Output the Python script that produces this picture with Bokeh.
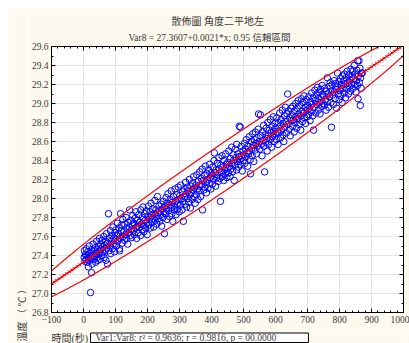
import numpy as np
from bokeh.plotting import figure
from bokeh.layouts import column, row
from bokeh.models import (Range1d, LinearAxis, SingleIntervalTicker,
                          PrintfTickFormatter, Title, Spacer,
                          CustomJSTickFormatter)
from bokeh.core.properties import value
from bokeh.embed import file_html
from bokeh.resources import INLINE

title_text = "散佈圖 角度二平地左"
subtitle_text = "Var8 = 27.3607+0.0021*x; 0.95 信賴區間"
x_label = "時間(秒)"
y_label = "溫度  （ ℃ ）"
stats_text = "Var1:Var8:   r² = 0.9636;   r = 0.9816, p = 00.0000"

# time (s)
time_s = [
    2, 3, 5, 6, 8, 9, 11, 12, 14, 15, 16, 18, 19, 21, 22, 23, 25, 26, 27, 29, 30, 32, 33, 35, 36, 38, 39, 41, 42, 44, 45, 47, 48, 50,
    51, 52, 54, 55, 57, 58, 60, 61, 63, 64, 66, 67, 69, 70, 72, 73, 75, 76, 78, 79, 81, 82, 84, 85, 87, 88, 90, 92, 93, 95, 97, 98, 100,
    101, 103, 104, 106, 107, 109, 111, 112, 113, 115, 116, 118, 119, 121, 123, 124, 126, 128, 129, 131, 133, 134, 136, 138, 139, 141, 143, 144, 146, 148, 149,
    151, 153, 154, 156, 158, 159, 161, 163, 164, 166, 168, 169, 171, 173, 174, 176, 178, 179, 181, 183, 184, 186, 188, 189, 191, 193, 194, 196, 198, 199,
    201, 203, 204, 206, 208, 209, 211, 213, 214, 216, 218, 219, 221, 223, 224, 226, 228, 229, 231, 233, 234, 236, 238, 239, 241, 243, 244, 246, 248, 249,
    251, 253, 254, 256, 258, 259, 261, 263, 264, 266, 268, 269, 271, 273, 274, 276, 278, 279, 281, 283, 284, 286, 288, 289, 291, 293, 294, 296, 298, 299,
    301, 303, 304, 306, 308, 309, 311, 312, 314, 316, 317, 319, 321, 322, 324, 326, 327, 329, 331, 332, 334, 336, 337, 339, 341, 342, 344, 346, 347, 349,
    351, 353, 354, 356, 358, 359, 361, 363, 364, 366, 368, 369, 371, 372, 374, 376, 377, 379, 381, 382, 384, 386, 387, 389, 391, 393, 394, 396, 398, 399,
    401, 403, 404, 406, 408, 409, 411, 413, 414, 416, 418, 419, 421, 423, 424, 426, 428, 429, 431, 433, 434, 436, 438, 439, 441, 443, 444, 446, 448, 449,
    451, 453, 454, 456, 458, 459, 461, 463, 464, 466, 468, 469, 471, 473, 474, 476, 478, 479, 481, 483, 484, 486, 487, 489, 490, 491, 493, 494, 496, 498, 499,
    501, 503, 504, 506, 508, 509, 511, 513, 514, 516, 518, 519, 521, 522, 524, 526, 527, 529, 531, 532, 534, 536, 537, 539, 541, 542, 544, 546, 547, 549,
    551, 553, 554, 556, 558, 559, 561, 563, 564, 566, 568, 569, 571, 573, 574, 576, 578, 579, 581, 583, 584, 586, 588, 589, 591, 593, 594, 596, 598, 599,
    601, 603, 604, 606, 608, 609, 611, 613, 614, 616, 618, 619, 621, 623, 624, 626, 628, 629, 631, 633, 634, 636, 638, 639, 641, 643, 644, 646, 648, 649,
    651, 653, 654, 656, 658, 659, 661, 663, 664, 666, 668, 669, 671, 673, 674, 676, 678, 679, 681, 683, 684, 686, 688, 689, 691, 693, 694, 696, 698, 699,
    701, 703, 704, 706, 708, 709, 711, 713, 714, 716, 718, 719, 721, 723, 724, 726, 728, 729, 731, 733, 734, 736, 738, 739, 741, 743, 744, 746, 748, 749,
    751, 753, 754, 756, 758, 759, 761, 762, 764, 766, 768, 769, 771, 773, 774, 775, 777, 779, 781, 783, 784, 786, 788, 789, 791, 793, 794, 796, 798, 799,
    801, 803, 804, 806, 808, 809, 811, 813, 814, 816, 818, 819, 821, 823, 824, 826, 828, 829, 831, 833, 834, 836, 838, 839, 841, 843, 844, 846, 848, 849,
    851, 853, 854, 856, 857, 859, 861, 862, 864, 866, 868, 869, 871, 865, 858,
]

# temperature (deg C)
temp_c = [
    27.38, 27.45, 27.34, 27.41, 27.36, 27.47, 27.40, 27.33, 27.44, 27.28, 27.38, 27.50, 27.35, 27.42, 27.01, 27.37, 27.22, 27.46, 27.31, 27.40, 27.52, 27.36, 27.44, 27.39, 27.48, 27.33, 27.42, 27.55, 27.38, 27.46, 27.35, 27.50, 27.42, 27.58,
    27.44, 27.36, 27.52, 27.47, 27.40, 27.56, 27.49, 27.43, 27.60, 27.38, 27.51, 27.46, 27.55, 27.35, 27.63, 27.48, 27.31, 27.53, 27.84, 27.45, 27.58, 27.50, 27.66, 27.42, 27.55, 27.61, 27.47, 27.70, 27.52, 27.58, 27.44, 27.64, 27.56,
    27.67, 27.50, 27.61, 27.74, 27.55, 27.63, 27.69, 27.47, 27.45, 27.58, 27.84, 27.66, 27.72, 27.53, 27.78, 27.60, 27.65, 27.56, 27.73, 27.62, 27.80, 27.58, 27.68, 27.52, 27.75, 27.64, 27.70, 27.88, 27.61, 27.77, 27.67,
    27.59, 27.72, 27.82, 27.66, 27.74, 27.62, 27.79, 27.69, 27.86, 27.58, 27.71, 27.77, 27.64, 27.83, 27.70, 27.75, 27.61, 27.88, 27.73, 27.67, 27.80, 27.91, 27.72, 27.65, 27.84, 27.77, 27.69, 27.87, 27.74, 27.62,
    27.81, 27.92, 27.72, 27.78, 27.86, 27.69, 27.95, 27.82, 27.75, 27.89, 27.79, 27.70, 27.84, 27.98, 27.77, 27.88, 27.81, 27.73, 28.02, 27.85, 27.79, 27.92, 27.76, 27.87, 27.83, 27.94, 27.71, 27.89, 27.80, 27.97,
    27.86, 27.63, 27.92, 27.84, 28.01, 27.89, 27.78, 27.95, 28.05, 27.87, 27.93, 27.81, 27.99, 27.90, 28.08, 27.84, 27.96, 27.76, 28.02, 27.92, 27.88, 28.10, 27.97, 27.83, 28.04, 27.94, 27.89, 28.12, 27.99, 27.86,
    28.03, 27.93, 28.14, 28.00, 27.88, 28.07, 27.97, 27.76, 28.10, 28.02, 27.94, 28.17, 28.05, 27.91, 28.12, 28.00, 28.08, 27.96, 28.20, 28.04, 27.90, 28.13, 28.06, 27.99, 28.16, 28.09, 28.23, 28.02, 28.11, 27.95,
    28.14, 28.04, 28.25, 28.10, 27.99, 28.18, 28.08, 28.28, 28.13, 28.02, 28.21, 28.15, 28.31, 27.88, 28.19, 28.09, 28.24, 28.12, 28.34, 28.17, 28.06, 28.26, 28.20, 28.11, 28.30, 28.16, 28.36, 28.22, 28.10, 28.27,
    28.24, 28.15, 28.33, 28.20, 28.40, 28.48, 28.27, 28.13, 28.30, 28.22, 28.37, 28.25, 28.18, 28.43, 28.31, 28.21, 27.97, 28.35, 28.28, 28.45, 28.23, 28.33, 28.19, 28.40, 28.30, 28.26, 28.47, 28.36, 28.22, 28.32,
    28.38, 28.27, 28.50, 28.34, 28.23, 28.42, 28.31, 28.54, 28.37, 28.28, 28.46, 28.40, 28.19, 28.35, 28.52, 28.43, 28.30, 28.57, 28.39, 28.47, 28.33, 28.44, 28.76, 28.41, 28.75, 28.36, 28.55, 28.45, 28.29, 28.50, 28.40,
    28.46, 28.58, 28.37, 28.52, 28.44, 28.62, 28.48, 28.34, 28.55, 28.47, 28.65, 28.50, 28.41, 28.26, 28.60, 28.53, 28.45, 28.68, 28.56, 28.39, 28.62, 28.51, 28.70, 28.58, 28.47, 28.64, 28.55, 28.73, 28.89, 28.60,
    28.52, 28.88, 28.66, 28.57, 28.45, 28.70, 28.61, 28.77, 28.55, 28.28, 28.67, 28.59, 28.74, 28.63, 28.50, 28.80, 28.66, 28.57, 28.72, 28.62, 28.83, 28.69, 28.54, 28.76, 28.65, 28.86, 28.71, 28.60, 28.79, 28.68,
    28.74, 28.62, 28.85, 28.70, 28.57, 28.80, 28.69, 28.90, 28.76, 28.64, 28.83, 28.72, 28.93, 28.67, 28.79, 28.60, 28.87, 28.75, 28.96, 28.81, 28.69, 28.89, 29.10, 28.78, 28.92, 28.73, 28.85, 28.66, 28.95, 28.82,
    28.88, 28.76, 28.97, 28.83, 28.70, 28.92, 28.80, 29.00, 28.86, 28.74, 28.95, 28.84, 29.03, 28.89, 28.78, 28.98, 28.87, 28.72, 29.05, 28.92, 28.81, 29.01, 28.90, 29.08, 28.85, 28.96, 28.79, 29.04, 28.93, 28.86,
    28.98, 28.88, 29.07, 28.95, 28.82, 29.02, 28.91, 29.11, 28.99, 28.87, 29.06, 28.72, 28.96, 29.14, 29.03, 28.90, 29.09, 28.99, 29.17, 29.05, 28.93, 29.12, 29.01, 28.89, 29.15, 29.07, 28.97, 29.19, 29.10, 29.00,
    29.08, 28.98, 29.16, 29.04, 28.93, 29.13, 29.02, 29.27, 29.10, 28.96, 29.18, 29.07, 29.22, 29.01, 29.13, 28.75, 29.20, 29.09, 28.99, 29.24, 29.12, 29.05, 29.21, 29.15, 28.95, 29.18, 29.32, 29.10, 29.23, 29.04,
    29.14, 29.26, 29.08, 29.19, 29.01, 29.29, 29.16, 29.24, 29.11, 29.31, 29.20, 29.06, 29.27, 29.15, 29.34, 29.22, 29.10, 29.30, 29.18, 29.25, 29.13, 29.36, 29.21, 29.28, 29.34, 29.16, 29.26, 29.40, 29.20, 29.31,
    29.12, 29.24, 29.35, 29.19, 29.45, 29.29, 29.45, 29.22, 29.37, 29.27, 29.16, 29.32, 29.32, 28.98, 29.05,
]
assert len(time_s) == len(temp_c), (len(time_s), len(temp_c))

X0, X1 = -100, 1000
Y0, Y1 = 26.8, 29.6

FONT = "Liberation Serif, Noto Sans CJK TC"
TXT = "#3a3a3a"
CREAM = "#fdf9ee"

LW = 20            # left strip width (holds the rotated y label)
MW, MH = 381, 322  # main figure
BH = 13            # bottom strip height
BL, BR = 23, 6     # left / right borders shared by main figure and bottom strip

p = figure(width=MW, height=MH, output_backend="svg", toolbar_location=None,
           x_range=Range1d(X0, X1), y_range=Range1d(Y0, Y1),
           min_border_left=BL, min_border_right=BR, min_border_top=38,
           min_border_bottom=18)
p.background_fill_color = "white"
p.border_fill_color = CREAM
p.outline_line_color = "black"

xt = SingleIntervalTicker(interval=100, num_minor_ticks=5)
yt = SingleIntervalTicker(interval=0.2, num_minor_ticks=2)

for ax in p.xaxis:
    ax.ticker = xt
for ax in p.yaxis:
    ax.ticker = yt
    ax.formatter = PrintfTickFormatter(format="%.1f")

blank = CustomJSTickFormatter(code="return ''")
top_axis = LinearAxis(ticker=xt, formatter=blank, major_label_standoff=0)
right_axis = LinearAxis(ticker=yt, formatter=blank, major_label_standoff=0)
p.add_layout(top_axis, "above")
p.add_layout(right_axis, "right")

for ax in p.axis:
    ax.axis_line_color = "black"
    ax.major_tick_line_color = "black"
    ax.minor_tick_line_color = "black"
    ax.major_tick_in = 4
    ax.major_tick_out = 0
    ax.minor_tick_in = 2
    ax.minor_tick_out = 0
    ax.major_label_text_font = FONT
    ax.major_label_text_font_size = "9.5px"
    ax.major_label_text_color = TXT
for ax in p.below + p.left:
    ax.major_label_standoff = 3

p.grid.grid_line_color = "#e4e4e4"
p.grid.grid_line_width = 1
p.xgrid.ticker = xt
p.ygrid.ticker = yt

xa = np.array(time_s, dtype=float)
ya = np.array(temp_c, dtype=float)

# scatter points
p.scatter(time_s, temp_c, marker="circle", size=6.5, fill_color=None,
          line_color="#0000ff", line_width=1)

# regression line
b, a = np.polyfit(xa, ya, 1)
lx = np.array([X0, X1], dtype=float)
p.line(lx, a + b * lx, line_color="#ff0000", line_width=1.3)
mx = np.arange(X0, X1 + 1, 8, dtype=float)
p.scatter(mx, a + b * mx, marker="x", size=4, line_color="#ff0000", line_width=1)

# 0.95 confidence ellipse
cov = np.cov(xa, ya)
evals, evecs = np.linalg.eigh(cov)
k = np.sqrt(5.991)
t = np.linspace(0, 2 * np.pi, 1441)
circ = np.vstack([np.cos(t), np.sin(t)]) * (k * np.sqrt(evals))[:, None]
pts = evecs @ circ
p.line(xa.mean() + pts[0], ya.mean() + pts[1], line_color="#ff0000", line_width=1.2)

# titles (above the frame)
sub = Title(text=subtitle_text, align="left", offset=77, standoff=8,
            text_font=FONT, text_font_size="9.5px", text_color=TXT,
            text_font_style="normal")
main = Title(text=title_text, align="left", offset=120, standoff=0,
             text_font=FONT, text_font_size="10px", text_color=TXT,
             text_font_style="normal", text_line_height=0.8)
p.title.visible = False
p.above = [top_axis, sub, main]


def strip(w, h, x_range, left_border=0, right_border=0):
    f = figure(width=w, height=h, output_backend="svg", toolbar_location=None,
               x_range=x_range, y_range=Range1d(0, h), min_border=0,
               min_border_left=left_border, min_border_right=right_border,
               x_axis_type=None, y_axis_type=None, title=None)
    f.outline_line_color = None
    f.background_fill_color = CREAM
    f.border_fill_color = CREAM
    return f


# left strip: rotated y-axis label (x in strip pixels)
left = strip(LW, MH + BH, Range1d(0, LW))
left.text(x=[14], y=[2], text=[y_label], angle=np.pi / 2,
          text_align="left", text_baseline="middle",
          text_font=value(FONT), text_font_size=value("10px"), text_color=TXT)

# bottom strip: frame aligned with the main frame; x in page pixels
PAGE_FL = 8 + LW + BL
PAGE_FR = 8 + LW + MW - BR
bottom = strip(MW, BH, Range1d(PAGE_FL, PAGE_FR), BL, BR)
bottom.quad(left=[90], right=[308], bottom=[1], top=[10.5],
            fill_color="white", line_color="black", line_width=1)
bottom.text(x=[PAGE_FL], y=[5.5], text=[x_label], text_align="left",
            text_baseline="middle", text_font=value(FONT),
            text_font_size=value("10px"), text_color=TXT)
bottom.text(x=[95], y=[5.5], text=[stats_text], text_align="left",
            text_baseline="middle", text_font=value(FONT),
            text_font_size=value("9.5px"), text_color=TXT)

layout = column(Spacer(width=409, height=8),
                row(Spacer(width=8, height=MH + BH), left, column(p, bottom)))
open("out.html", "w").write(file_html(layout, INLINE))
